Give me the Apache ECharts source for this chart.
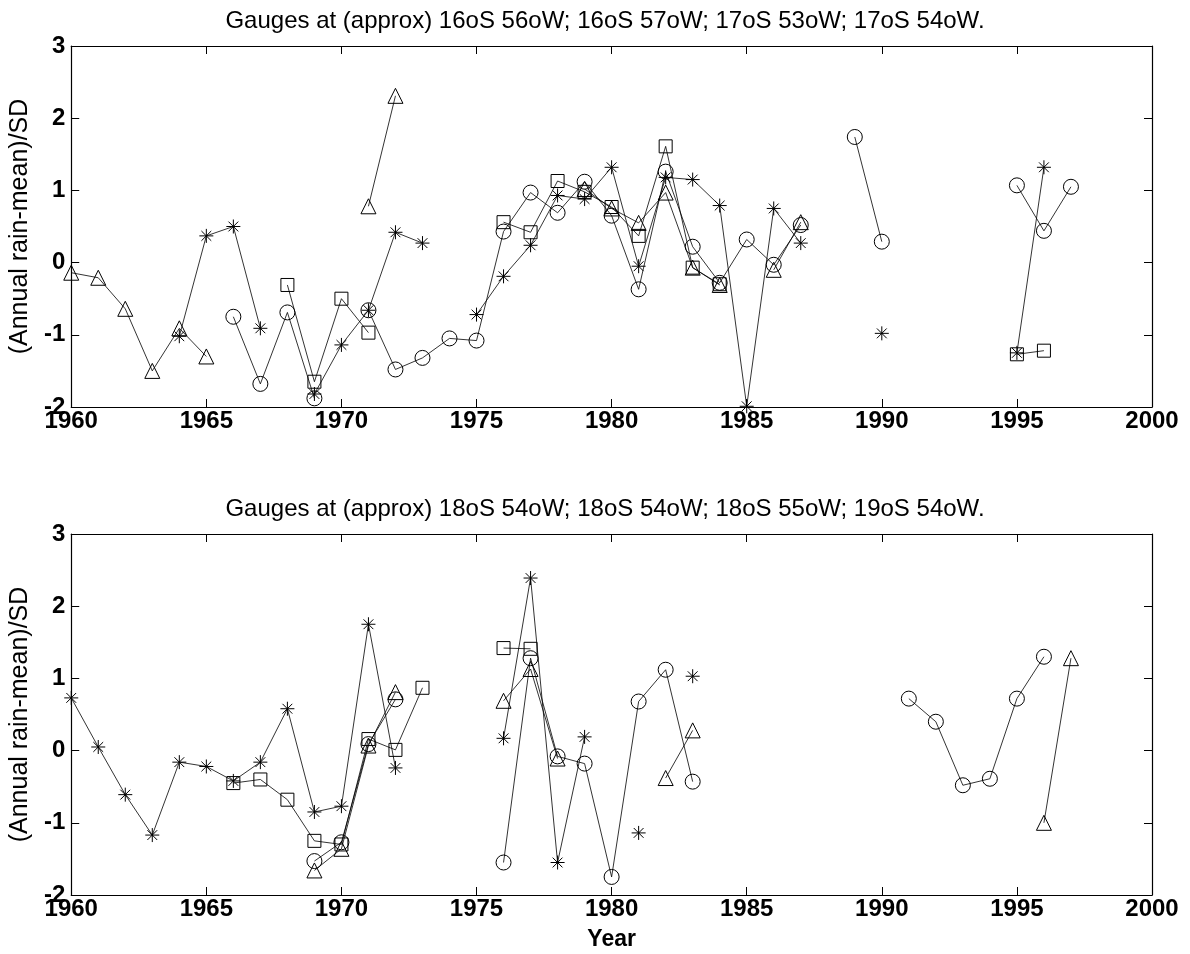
<!DOCTYPE html>
<html>
<head>
<meta charset="utf-8">
<title>Gauges</title>
<script src="https://cdn.jsdelivr.net/npm/echarts@6/dist/echarts.min.js"></script>
<style>
  html, body { margin: 0; padding: 0; background: #fff; }
  #chart { width: 1190px; height: 954px; }
</style>
</head>
<body>
<div id="chart"></div>
<script>
// years 1960..1997, one value per year, null = no data
var years = [1960, 1961, 1962, 1963, 1964, 1965, 1966, 1967, 1968, 1969,
             1970, 1971, 1972, 1973, 1974, 1975, 1976, 1977, 1978, 1979,
             1980, 1981, 1982, 1983, 1984, 1985, 1986, 1987, 1988, 1989,
             1990, 1991, 1992, 1993, 1994, 1995, 1996, 1997];

var yTicks = [-2, -1, 0, 1, 2, 3];

var topTitle = 'Gauges at (approx) 16oS 56oW; 16oS 57oW; 17oS 53oW; 17oS 54oW.';
var botTitle = 'Gauges at (approx) 18oS 54oW; 18oS 54oW; 18oS 55oW; 19oS 54oW.';

// upper panel
var topTri = [-0.14, -0.21, -0.64, -1.50, -0.91, -1.30, null, null, null, null,
              null, 0.78, 2.31, null, null, null, null, null, null, 1.02,
              0.75, 0.55, 0.97, -0.07, -0.31, null, -0.10, 0.56, null, null,
              null, null, null, null, null, null, null, null];
var topStar = [null, null, null, null, -1.02, 0.37, 0.50, -0.91, null, -1.82,
               -1.14, -0.66, 0.42, 0.27, null, -0.72, -0.19, 0.24, 0.93, 0.88,
               1.32, -0.05, 1.18, 1.15, 0.79, -1.99, 0.75, 0.27, null, null,
               -0.98, null, null, null, null, -1.25, 1.32, null];
var topSquare = [null, null, null, null, null, null, null, null, -0.31, -1.65,
                 -0.50, -0.97, null, null, null, null, 0.56, 0.42, 1.13, 0.98,
                 0.77, 0.37, 1.61, -0.07, -0.30, null, null, null, null, null,
                 null, null, null, null, null, -1.27, -1.22, null];
var topCircle = [null, null, null, null, null, null, -0.75, -1.68, -0.69, -1.88,
                 null, -0.66, -1.48, -1.32, -1.05, -1.08, 0.43, 0.97, 0.69, 1.12,
                 0.65, -0.37, 1.26, 0.22, -0.28, 0.32, -0.03, 0.52, null, 1.74,
                 0.29, null, null, null, null, 1.07, 0.44, 1.05];

// lower panel
var botTri = [null, null, null, null, null, null, null, null, null, -1.66,
              -1.36, 0.07, 0.81, null, null, null, 0.69, 1.13, -0.11, null,
              null, null, -0.38, 0.28, null, null, null, null, null, null,
              null, null, null, null, null, null, -1.00, 1.28];
var botStar = [0.73, 0.05, -0.61, -1.17, -0.16, -0.22, -0.42, -0.16, 0.58, -0.85,
               -0.77, 1.75, -0.24, null, null, null, 0.17, 2.39, -1.55, 0.19,
               null, -1.14, null, 1.03, null, null, null, null, null, null,
               null, null, null, null, null, null, null, null];
var botSquare = [null, null, null, null, null, null, -0.45, -0.40, -0.68, -1.25,
                 -1.30, 0.16, 0.01, 0.87, null, null, 1.42, 1.41, null, null,
                 null, null, null, null, null, null, null, null, null, null,
                 null, null, null, null, null, null, null, null];
var botCircle = [null, null, null, null, null, null, null, null, null, -1.53,
                 -1.27, 0.09, 0.71, null, null, null, -1.55, 1.28, -0.08, -0.18,
                 -1.75, 0.68, 1.12, -0.43, null, null, null, null, null, null,
                 null, 0.72, 0.40, -0.48, -0.39, 0.72, 1.30, null];

var FONT = "'Liberation Sans', Arial, sans-serif";
var STAR = 'path://M50,0 L50,100 M0,50 L100,50 M15,15 L85,85 M15,85 L85,15';

function pairs(vals) {
    return years.map(function (y, i) { return [y, vals[i]]; });
}

function mkSeries(name, vals, symbol, size, idx) {
    return {
        name: name,
        type: 'line',
        xAxisIndex: idx * 2,
        yAxisIndex: idx * 2,
        data: pairs(vals),
        symbol: symbol,
        symbolSize: size,
        showSymbol: true,
        showAllSymbol: true,
        connectNulls: false,
        lineStyle: { color: '#000', width: 0.8 },
        itemStyle: { color: 'rgba(0,0,0,0)', borderColor: '#000', borderWidth: 1 },
        emphasis: { disabled: true },
        z: 3
    };
}

var grids = [
    { left: 70, right: 38, top: 46, height: 361 },
    { left: 70, right: 38, top: 534, height: 361 }
];

var boxLine = { show: true, onZero: false, lineStyle: { color: '#000', width: 1.2 } };
var inTick = { show: true, inside: true, length: 8, lineStyle: { color: '#000' } };

var xAxes = [], yAxes = [];
for (var g = 0; g < 2; g++) {
    // bottom x axis with labels
    xAxes.push({
        type: 'value', gridIndex: g, position: 'bottom',
        min: 1960, max: 2000, interval: 5,
        name: g === 1 ? 'Year' : '',
        nameLocation: 'middle', nameGap: 33,
        nameTextStyle: { color: '#000', fontFamily: FONT, fontSize: 23, fontWeight: 'bold' },
        axisLine: boxLine,
        axisTick: inTick,
        axisLabel: { color: '#000', fontFamily: FONT, fontSize: 24, fontWeight: 'bold', margin: 2,
                     formatter: function (v) { return String(v); } },
        splitLine: { show: false }
    });
    // top x axis, box only
    xAxes.push({
        type: 'value', gridIndex: g, position: 'top',
        min: 1960, max: 2000, interval: 5,
        axisLine: boxLine,
        axisTick: inTick,
        axisLabel: { show: false },
        splitLine: { show: false }
    });
    yAxes.push({
        type: 'value', gridIndex: g, position: 'left',
        min: yTicks[0], max: yTicks[yTicks.length - 1], interval: 1,
        name: '(Annual rain-mean)/SD',
        nameLocation: 'middle', nameGap: 31,
        nameTextStyle: { color: '#000', fontFamily: FONT, fontSize: 25 },
        axisLine: boxLine,
        axisTick: inTick,
        axisLabel: { color: '#000', fontFamily: FONT, fontSize: 24, fontWeight: 'bold', margin: 6 },
        splitLine: { show: false }
    });
    yAxes.push({
        type: 'value', gridIndex: g, position: 'right',
        min: yTicks[0], max: yTicks[yTicks.length - 1], interval: 1,
        axisLine: boxLine,
        axisTick: inTick,
        axisLabel: { show: false },
        splitLine: { show: false }
    });
}

var myChart = echarts.init(document.getElementById('chart'));

var option = {
    animation: false,
    backgroundColor: '#fff',
    title: [
        { text: topTitle, left: 605, top: 9, padding: 0, textAlign: 'center',
          textStyle: { color: '#000', fontFamily: FONT, fontSize: 24, fontWeight: 'normal' } },
        { text: botTitle, left: 605, top: 497, padding: 0, textAlign: 'center',
          textStyle: { color: '#000', fontFamily: FONT, fontSize: 24, fontWeight: 'normal' } }
    ],
    grid: grids,
    xAxis: xAxes,
    yAxis: yAxes,
    series: [
        mkSeries('tri', topTri, 'triangle', 15, 0),
        mkSeries('star', topStar, STAR, 14, 0),
        mkSeries('square', topSquare, 'rect', 13, 0),
        mkSeries('circle', topCircle, 'circle', 15, 0),
        mkSeries('tri', botTri, 'triangle', 15, 1),
        mkSeries('star', botStar, STAR, 14, 1),
        mkSeries('square', botSquare, 'rect', 13, 1),
        mkSeries('circle', botCircle, 'circle', 15, 1)
    ]
};

myChart.setOption(option);
</script>
</body>
</html>
